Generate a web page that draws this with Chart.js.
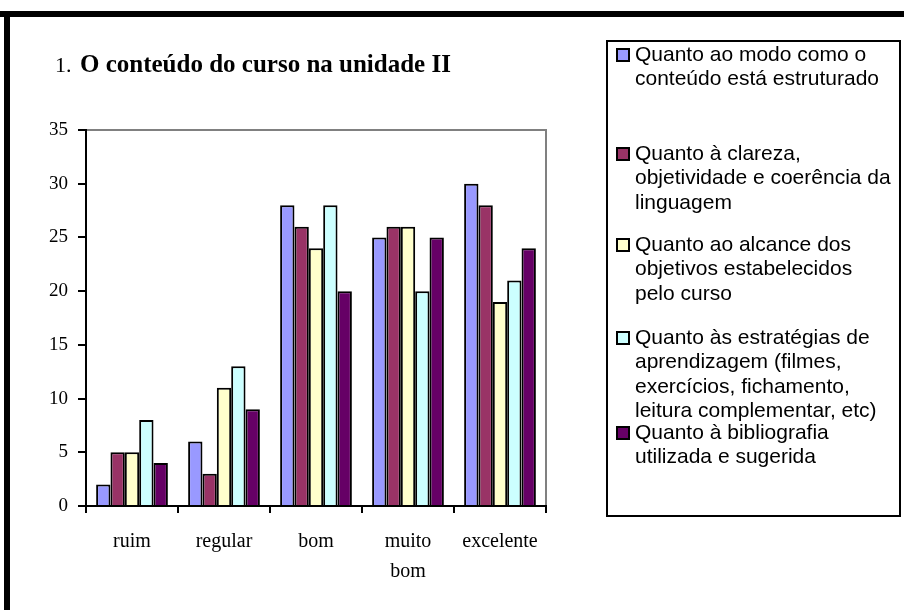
<!DOCTYPE html>
<html>
<head>
<meta charset="utf-8">
<script src="https://cdn.jsdelivr.net/npm/chart.js@4"></script>
<style>
  html, body { margin: 0; padding: 0; background: #fff; }
  #wrap { width: 904px; height: 610px; position: relative; }
</style>
</head>
<body>
<div id="wrap"><canvas id="conteudoChart" width="904" height="610"></canvas></div>
<script>
const categories = ['ruim', 'regular', 'bom', ['muito', 'bom'], 'excelente'];
const modoEstruturado = [2, 6, 28, 25, 30];
const clarezaLinguagem = [5, 3, 26, 26, 28];
const alcanceObjetivos = [5, 11, 24, 26, 19];
const estrategiasAprendizagem = [8, 13, 28, 20, 21];
const bibliografia = [4, 9, 20, 25, 24];
const yTicks = [0, 5, 10, 15, 20, 25, 30, 35];

const seriesNames = [
  ['Quanto ao modo como o', 'conteúdo está estruturado'],
  ['Quanto à clareza,', 'objetividade e coerência da', 'linguagem'],
  ['Quanto ao alcance dos', 'objetivos estabelecidos', 'pelo curso'],
  ['Quanto às estratégias de', 'aprendizagem (filmes,', 'exercícios, fichamento,', 'leitura complementar, etc)'],
  ['Quanto à bibliografia', 'utilizada e sugerida']
];
const seriesColors = ['#9999FF', '#993366', '#FFFFCC', '#CCFFFF', '#660066'];
const seriesData = [modoEstruturado, clarezaLinguagem, alcanceObjetivos, estrategiasAprendizagem, bibliografia];

// frame, title, plot border and legend box (Excel look)
const decor = {
  id: 'decor',
  beforeDraw(chart) {
    const ctx = chart.ctx;
    const a = chart.chartArea;
    ctx.save();
    ctx.fillStyle = '#000';
    ctx.fillRect(0, 11, 904, 6);
    ctx.fillRect(4, 11, 6, 599);
    // plot area border, gray top and right
    ctx.strokeStyle = '#808080';
    ctx.lineWidth = 2;
    ctx.beginPath();
    ctx.moveTo(a.left, a.top);
    ctx.lineTo(a.right, a.top);
    ctx.lineTo(a.right, a.bottom);
    ctx.stroke();
    // title
    ctx.fillStyle = '#000';
    ctx.textBaseline = 'alphabetic';
    ctx.font = '22px "Liberation Serif"';
    ctx.fillText('1.', 55, 72);
    ctx.font = 'bold 25px "Liberation Serif"';
    ctx.fillText('O conteúdo do curso na unidade II', 80, 72);
    ctx.restore();
  },
  afterDraw(chart) {
    const ctx = chart.ctx;
    ctx.save();
    ctx.strokeStyle = '#000';
    ctx.lineWidth = 2;
    ctx.strokeRect(607, 41, 293, 475);
    const starts = [55, 154, 245, 338, 433];
    ctx.font = '21px "Liberation Sans"';
    ctx.textBaseline = 'middle';
    seriesNames.forEach((lines, i) => {
      const y0 = starts[i];
      ctx.fillStyle = seriesColors[i];
      ctx.fillRect(617, y0 - 6, 12, 12);
      ctx.lineWidth = 2;
      ctx.strokeRect(617, y0 - 6, 12, 12);
      ctx.fillStyle = '#000';
      lines.forEach((t, j) => ctx.fillText(t, 635, y0 + j * 24.5));
    });
    ctx.restore();
  }
};

new Chart(document.getElementById('conteudoChart').getContext('2d'), {
  type: 'bar',
  data: {
    labels: categories,
    datasets: seriesData.map((d, i) => ({
      label: seriesNames[i].join(' '),
      data: d,
      backgroundColor: seriesColors[i],
      borderColor: '#000',
      borderWidth: 2,
      categoryPercentage: 0.78,
      barPercentage: 1
    }))
  },
  options: {
    responsive: false,
    animation: false,
    layout: { padding: { left: 0, top: 130, right: 358, bottom: 0 } },
    plugins: {
      legend: { display: false },
      tooltip: { enabled: false }
    },
    scales: {
      x: {
        grid: { offset: true, drawOnChartArea: false, drawTicks: true, tickLength: 7, color: '#000', lineWidth: 2 },
        border: { display: true, color: '#000', width: 2 },
        ticks: { color: '#000', font: { family: 'Liberation Serif', size: 20, lineHeight: 1.5 }, padding: 14, maxRotation: 0, autoSkip: false },
        afterFit(s) { s.height = 104; }
      },
      y: {
        min: 0,
        max: 35,
        afterBuildTicks(s) { s.ticks = yTicks.map(v => ({ value: v })); },
        grid: { drawOnChartArea: false, drawTicks: true, tickLength: 8, color: '#000', lineWidth: 2 },
        border: { display: true, color: '#000', width: 2 },
        ticks: { color: '#000', font: { family: 'Liberation Serif', size: 19 }, padding: 10 },
        afterFit(s) { s.width = 86; }
      }
    }
  },
  plugins: [decor]
});
</script>
</body>
</html>
